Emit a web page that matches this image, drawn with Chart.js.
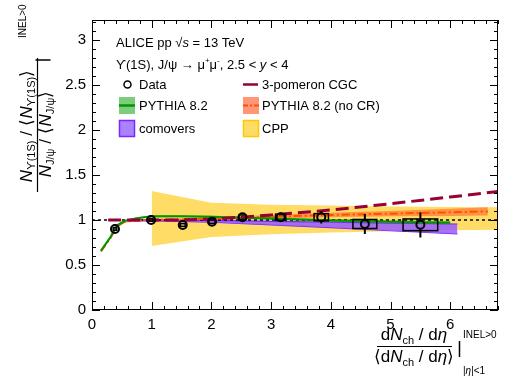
<!DOCTYPE html>
<html><head><meta charset="utf-8">
<script src="https://cdn.jsdelivr.net/npm/chart.js@4.4.1/dist/chart.umd.min.js"></script>
<style>html,body{margin:0;padding:0;background:#fff;}</style>
</head><body>
<canvas id="c" width="515" height="388"></canvas>
<script>
// ---------- data ----------
const obsX    = [0.385, 0.99, 1.52, 2.01, 2.52, 3.16, 3.84, 4.57, 5.50];
const obsY    = [0.90, 1.00, 0.944, 0.98, 1.03, 1.03, 1.03, 0.955, 0.946];
const obsStat = [0.02, 0.02, 0.02, 0.02, 0.03, 0.05, 0.07, 0.11, 0.14];
const obsSysY = [0.015, 0.015, 0.015, 0.02, 0.025, 0.035, 0.04, 0.05, 0.065];
const obsSysX = [0.03, 0.03, 0.04, 0.05, 0.06, 0.085, 0.12, 0.20, 0.29];

const cppX  = [1.0, 2.0, 3.0, 4.0, 5.0, 6.0, 6.8];
const cppHi = [1.32, 1.19, 1.17, 1.16, 1.15, 1.145, 1.14];
const cppLo = [0.71, 0.81, 0.84, 0.86, 0.875, 0.885, 0.89];

const coX  = [0.6, 1.0, 2.0, 3.0, 4.0, 5.0, 6.12];
const coHi = [1.0, 1.0, 0.995, 0.985, 0.975, 0.965, 0.955];
const coLo = [0.99, 0.99, 0.975, 0.945, 0.915, 0.88, 0.845];

const pyX  = [0.15, 0.3, 0.42, 0.55, 0.75, 1.0, 1.5, 2.0, 2.5, 3.0, 4.0, 5.0, 6.0];
const pyY  = [0.66, 0.80, 0.94, 0.99, 1.02, 1.04, 1.04, 1.035, 1.025, 1.015, 0.995, 0.98, 0.97];
const pyHi = [0.67, 0.81, 0.95, 1.0, 1.03, 1.05, 1.05, 1.046, 1.037, 1.028, 1.01, 0.997, 0.988];
const pyLo = [0.65, 0.79, 0.93, 0.98, 1.01, 1.03, 1.03, 1.024, 1.013, 1.002, 0.98, 0.963, 0.952];

const ncX  = [0.15, 0.3, 0.42, 0.55, 0.75, 1.0, 1.5, 2.0, 3.0, 4.0, 5.0, 6.0, 6.63];
const ncY  = [0.65, 0.79, 0.93, 0.98, 0.995, 1.0, 1.005, 1.015, 1.035, 1.055, 1.07, 1.085, 1.095];
const ncHi = [0.66, 0.80, 0.94, 0.99, 1.005, 1.01, 1.017, 1.03, 1.055, 1.08, 1.1, 1.125, 1.14];
const ncLo = [0.64, 0.78, 0.92, 0.97, 0.985, 0.99, 0.993, 1.0, 1.015, 1.03, 1.04, 1.045, 1.05];

const cgcX = [0.27, 1.0, 1.5, 2.0, 2.5, 3.0, 4.0, 5.0, 6.0, 6.8];
const cgcY = [1.0, 1.0, 1.0, 1.01, 1.03, 1.055, 1.11, 1.18, 1.255, 1.315];

const refX = [0, 6.8];
const refY = [1, 1];

const xTickLabels = [0, 1, 2, 3, 4, 5, 6];
const yTickLabels = [0, 0.5, 1, 1.5, 2, 2.5, 3];

// ---------- helpers ----------
const F = '"Liberation Sans", Arial, Helvetica, sans-serif';
const pts = (xa, ya) => xa.map((x, i) => ({x, y: ya[i]}));

function fnt(s) { return (s.it ? 'italic ' : '') + (s.sz || 13) + 'px ' + F; }
function drawRich(ctx, segs, x, y, align) {
  let w = 0;
  segs.forEach(s => { ctx.font = fnt(s); s.w = ctx.measureText(s.t).width; w += s.w + (s.g || 0); });
  let cx = align === 'center' ? x - w / 2 : (align === 'right' ? x - w : x);
  ctx.textAlign = 'left'; ctx.textBaseline = 'alphabetic';
  segs.forEach(s => { ctx.font = fnt(s); ctx.fillText(s.t, cx, y + (s.dy || 0)); cx += s.w + (s.g || 0); });
  return w;
}

const COL = {
  cpp: '#ffdc66', cppEdge: '#ffc800',
  co: 'rgba(150, 90, 255, 0.85)', coEdge: 'rgb(120, 40, 255)',
  py: 'rgb(0, 150, 0)', pyBand: 'rgba(0, 170, 0, 0.5)',
  nc: 'rgb(255, 80, 0)', ncBand: 'rgba(255, 90, 40, 0.55)',
  cgc: 'rgb(153, 0, 51)'
};

const decor = {
  id: 'decor',
  beforeDatasetDraw(chart, args) {
    if (args.index !== 0) return;
    const ctx = chart.ctx, xs = chart.scales.x, ys = chart.scales.y;
    ctx.save();
    ctx.strokeStyle = '#000';
    ctx.lineWidth = 1.5;
    obsX.forEach((x, i) => {
      const x0 = xs.getPixelForValue(x - obsSysX[i]), x1 = xs.getPixelForValue(x + obsSysX[i]);
      const y0 = ys.getPixelForValue(obsY[i] + obsSysY[i]), y1 = ys.getPixelForValue(obsY[i] - obsSysY[i]);
      ctx.strokeRect(x0, y0, x1 - x0, y1 - y0);
    });
    ctx.lineWidth = 2;
    obsX.forEach((x, i) => {
      const px = xs.getPixelForValue(x), py = ys.getPixelForValue(obsY[i]);
      const yt = ys.getPixelForValue(obsY[i] + obsStat[i]), yb = ys.getPixelForValue(obsY[i] - obsStat[i]);
      const r = 4;
      ctx.beginPath();
      if (py - yt > r) { ctx.moveTo(px, yt); ctx.lineTo(px, py - r); }
      if (yb - py > r) { ctx.moveTo(px, py + r); ctx.lineTo(px, yb); }
      ctx.stroke();
    });
    ctx.restore();
  },
  afterDraw(chart) {
    const ctx = chart.ctx, a = chart.chartArea, xs = chart.scales.x, ys = chart.scales.y;
    ctx.save();
    ctx.strokeStyle = '#000'; ctx.lineWidth = 1;
    ctx.strokeRect(a.left + 0.5, a.top + 0.5, a.right - a.left - 1, a.bottom - a.top - 1);
    ctx.beginPath();
    for (let k = 0; k <= 34; k++) {
      const v = k * 0.2; if (v > xs.max + 1e-6) break;
      const px = Math.round(xs.getPixelForValue(v)) + 0.5;
      const L = (k % 5 === 0) ? 8 : 4;
      ctx.moveTo(px, a.bottom); ctx.lineTo(px, a.bottom - L);
      ctx.moveTo(px, a.top); ctx.lineTo(px, a.top + L);
    }
    for (let k = 0; k <= 32; k++) {
      const v = k * 0.1; if (v > ys.max + 1e-6) break;
      const py = Math.round(ys.getPixelForValue(v)) + 0.5;
      const L = (k % 5 === 0) ? 8 : 4;
      ctx.moveTo(a.left, py); ctx.lineTo(a.left + L, py);
      ctx.moveTo(a.right, py); ctx.lineTo(a.right - L, py);
    }
    ctx.stroke();

    ctx.fillStyle = '#000';
    drawRich(ctx, [{t: 'ALICE pp ', sz: 13}, {t: '\u221A', sz: 13}, {t: 's', sz: 13, it: true}, {t: ' = 13 TeV', sz: 13}], 116, 47, 'left');
    drawRich(ctx, [{t: '\u03D2(1S), J/\u03C8 \u2192 \u03BC', sz: 13}, {t: '+', sz: 8, dy: -6}, {t: '\u03BC', sz: 13}, {t: '-', sz: 8, dy: -6}, {t: ', 2.5 < ', sz: 13}, {t: 'y', sz: 13, it: true}, {t: ' < 4', sz: 13}], 116, 69, 'left');
    ctx.font = '13px ' + F; ctx.textAlign = 'left'; ctx.textBaseline = 'alphabetic';
    ctx.fillText('Data', 139, 89);
    ctx.fillText('PYTHIA 8.2', 139, 110);
    ctx.fillText('comovers', 139, 133);
    ctx.fillText('3-pomeron CGC', 262, 89);
    ctx.fillText('PYTHIA 8.2 (no CR)', 262, 110);
    ctx.fillText('CPP', 262, 133);
    ctx.lineWidth = 1.5; ctx.strokeStyle = '#000';
    ctx.beginPath(); ctx.arc(127.5, 84.5, 3.5, 0, Math.PI * 2); ctx.stroke();
    ctx.fillStyle = 'rgb(125, 205, 125)'; ctx.fillRect(119, 97, 16, 17);
    ctx.strokeStyle = COL.py; ctx.lineWidth = 2.5;
    ctx.beginPath(); ctx.moveTo(119, 105.5); ctx.lineTo(135, 105.5); ctx.stroke();
    ctx.fillStyle = 'rgb(170, 130, 255)'; ctx.fillRect(119, 120, 16, 17);
    ctx.strokeStyle = COL.coEdge; ctx.lineWidth = 1.5; ctx.strokeRect(119.5, 120.5, 15, 16);
    ctx.strokeStyle = COL.cgc; ctx.lineWidth = 2.5;
    ctx.beginPath(); ctx.moveTo(243, 84.5); ctx.lineTo(258, 84.5); ctx.stroke();
    ctx.fillStyle = 'rgb(255, 150, 120)'; ctx.fillRect(243, 97, 16, 17);
    ctx.strokeStyle = COL.nc; ctx.lineWidth = 2; ctx.setLineDash([5, 2, 2, 2]);
    ctx.beginPath(); ctx.moveTo(243, 105.5); ctx.lineTo(259, 105.5); ctx.stroke();
    ctx.setLineDash([]);
    ctx.fillStyle = COL.cpp; ctx.fillRect(243, 120, 16, 17);
    ctx.strokeStyle = COL.cppEdge; ctx.lineWidth = 1.5; ctx.strokeRect(243.5, 120.5, 15, 16);

    // ---- y axis title (rotated) ----
    ctx.fillStyle = '#000'; ctx.strokeStyle = '#000';
    ctx.save();
    ctx.translate(37.5, 126); ctx.rotate(-Math.PI / 2);
    drawRich(ctx, [{t: 'N', sz: 17, it: true}, {t: '\u03D2(1S)', sz: 11, dy: 3}, {t: ' / \u27E8', sz: 17, g: 1}, {t: 'N', sz: 17, it: true}, {t: '\u03D2(1S)', sz: 11, dy: 3}, {t: '\u27E9', sz: 17}], 0, -6, 'center');
    drawRich(ctx, [{t: 'N', sz: 17, it: true}, {t: 'J/\u03C8', sz: 11, dy: 3.5}, {t: ' / \u27E8', sz: 17, g: 1}, {t: 'N', sz: 17, it: true}, {t: 'J/\u03C8', sz: 11, dy: 3.5}, {t: '\u27E9', sz: 17}], -8, 13, 'center');
    ctx.lineWidth = 1.2;
    ctx.beginPath(); ctx.moveTo(-66, 0); ctx.lineTo(68, 0); ctx.stroke();
    ctx.lineWidth = 1.5;
    ctx.beginPath(); ctx.moveTo(66, -2); ctx.lineTo(66, 13); ctx.stroke();
    drawRich(ctx, [{t: 'INEL>0', sz: 10}], 88, -12, 'left');
    ctx.restore();

    // ---- x axis title ----
    drawRich(ctx, [{t: 'd', sz: 17}, {t: 'N', sz: 17, it: true}, {t: 'ch', sz: 11, dy: 4}, {t: ' / d', sz: 17}, {t: '\u03B7', sz: 17, it: true}], 414, 340, 'center');
    drawRich(ctx, [{t: '\u27E8d', sz: 17}, {t: 'N', sz: 17, it: true}, {t: 'ch', sz: 11, dy: 4}, {t: ' / d', sz: 17}, {t: '\u03B7', sz: 17, it: true}, {t: '\u27E9', sz: 17}], 414, 362, 'center');
    ctx.lineWidth = 1.2;
    ctx.beginPath(); ctx.moveTo(377, 346.5); ctx.lineTo(452, 346.5); ctx.stroke();
    ctx.lineWidth = 1.5;
    ctx.beginPath(); ctx.moveTo(459.5, 341); ctx.lineTo(459.5, 357); ctx.stroke();
    drawRich(ctx, [{t: 'INEL>0', sz: 10}], 463, 338, 'left');
    drawRich(ctx, [{t: '|', sz: 10}, {t: '\u03B7', sz: 10, it: true}, {t: '|<1', sz: 10}], 463, 374, 'left');
    ctx.restore();
  }
};

const noPt = {pointRadius: 0, pointHoverRadius: 0};
const datasets = [
  {data: pts(obsX, obsY), showLine: false, pointRadius: 4, pointHoverRadius: 4, pointBorderWidth: 2,
   pointBorderColor: '#000', pointBackgroundColor: 'rgba(0,0,0,0)', borderColor: '#000', order: 0},
  {data: pts(cgcX, cgcY), borderColor: COL.cgc, borderWidth: 3, borderDash: [13, 6], fill: false, order: 1, ...noPt},
  {data: pts(pyX, pyY), borderColor: COL.py, borderWidth: 2, fill: false, order: 2, ...noPt},
  {data: pts(ncX, ncY), borderColor: COL.nc, borderWidth: 2, borderDash: [8, 3, 2, 3], fill: false, order: 3, ...noPt},
  {data: pts(refX, refY), borderColor: '#000', borderWidth: 1.5, borderDash: [3, 3], fill: false, order: 4, ...noPt},
  {data: pts(pyX, pyHi), borderWidth: 0, borderColor: 'rgba(0,0,0,0)', backgroundColor: COL.pyBand, fill: '+1', order: 5, ...noPt},
  {data: pts(pyX, pyLo), borderWidth: 0, borderColor: 'rgba(0,0,0,0)', fill: false, order: 6, ...noPt},
  {data: pts(ncX, ncHi), borderWidth: 0, borderColor: 'rgba(0,0,0,0)', backgroundColor: COL.ncBand, fill: '+1', order: 7, ...noPt},
  {data: pts(ncX, ncLo), borderWidth: 0, borderColor: 'rgba(0,0,0,0)', fill: false, order: 8, ...noPt},
  {data: pts(coX, coHi), borderWidth: 1.2, borderColor: COL.coEdge, backgroundColor: COL.co, fill: '+1', order: 9, ...noPt},
  {data: pts(coX, coLo), borderWidth: 1.2, borderColor: COL.coEdge, fill: false, order: 10, ...noPt},
  {data: pts(cppX, cppHi), borderWidth: 0, borderColor: 'rgba(0,0,0,0)', backgroundColor: COL.cpp, fill: '+1', order: 11, ...noPt},
  {data: pts(cppX, cppLo), borderWidth: 0, borderColor: 'rgba(0,0,0,0)', fill: false, order: 12, ...noPt}
];

new Chart(document.getElementById('c'), {
  type: 'line',
  data: {datasets},
  plugins: [decor],
  options: {
    responsive: false, animation: false, devicePixelRatio: 1,
    layout: {padding: {left: 0, top: 20, right: 17, bottom: 0}},
    plugins: {legend: {display: false}, tooltip: {enabled: false}},
    elements: {line: {tension: 0}},
    scales: {
      x: {
        type: 'linear', min: 0, max: 6.8,
        grid: {display: false, drawTicks: false}, border: {display: false},
        ticks: {stepSize: 1, color: '#000', font: {family: F, size: 15}, padding: 6,
                callback: v => String(+v.toFixed(2)), maxRotation: 0},
        afterBuildTicks: s => { s.ticks = xTickLabels.map(v => ({value: v})); },
        afterFit: s => { s.height = 78; }
      },
      y: {
        type: 'linear', min: 0, max: 3.22,
        grid: {display: false, drawTicks: false}, border: {display: false},
        ticks: {stepSize: 0.5, color: '#000', font: {family: F, size: 15}, padding: 6,
                callback: v => String(+v.toFixed(2))},
        afterBuildTicks: s => { s.ticks = yTickLabels.map(v => ({value: v})); },
        afterFit: s => { s.width = 92; }
      }
    }
  }
});
</script>
</body></html>
